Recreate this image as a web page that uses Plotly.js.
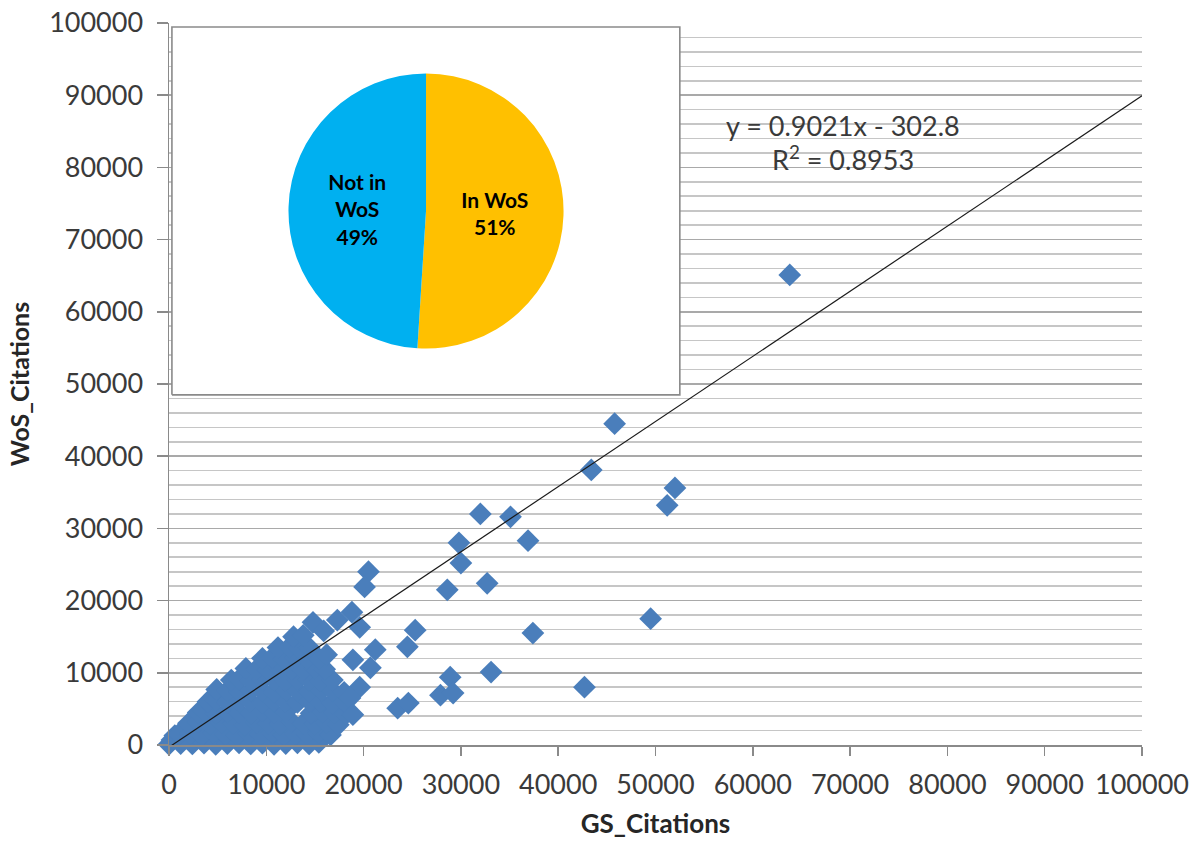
<!DOCTYPE html>
<html>
<head>
<meta charset="utf-8">
<script src="https://cdn.plot.ly/plotly-3.0.1.min.js"></script>
<style>
html,body{margin:0;padding:0;background:#fff;}
#chart{width:1190px;height:842px;}
</style>
</head>
<body>
<div id="chart"></div>
<script>
// ---- Scatter data: GS citations vs WoS citations ----
const gsCitations = [
  // dense cluster near origin, row by row
  0,1200,2400,3600,4800,6000,7200,8400,9600,10800,12000,13200,14400,15400,
  300,600,
  1000,2200,3400,4600,5800,7000,8200,9400,10600,11800,13000,14200,15400,16600,
  2000,3000,4200,5400,6600,7800,9000,10200,11400,12600,13800,15000,16200,17400,
  3000,3600,4800,6000,7200,8400,9600,10800,12000,14600,15800,17000,18200,
  4000,4800,6000,7200,8400,9600,10800,12000,13200,14400,15600,16800,18000,
  4900,6000,7200,8400,9600,10800,12000,13200,14400,15600,16800,18000,
  6400,7200,8400,9600,10800,12000,13200,14400,15600,16800,
  7900,9000,10200,11400,12600,13800,15000,16000,
  9600,10600,11800,13000,14200,15400,
  11200,12400,13400,14400,
  12800,13800,
  // scattered points
  63800,45800,43400,52000,51200,32000,35100,29800,36900,30000,28600,32700,
  37400,49500,28900,33100,42700,27900,29200,20500,20100,25300,24500,14800,
  18800,17300,19600,21200,18900,20700,16200,23500,24600,19600,18600,18900,
  15900
];
const wosCitations = [
  100,200,150,250,100,200,300,150,250,100,200,300,150,350,
  700,1300,
  1500,1600,1400,1700,1500,1400,1600,1500,1700,1400,1600,1500,1700,1400,
  3000,3200,2900,3100,3000,2800,3100,3000,2900,3200,3000,2900,3100,2800,
  4500,4700,4400,4600,4500,4400,4700,4500,4600,4400,4600,4500,4300,
  6000,6200,5900,6100,6000,5800,6100,6000,5900,6100,6000,5800,6000,
  7700,7500,7400,7600,7500,7300,7600,7500,7400,7600,7500,7300,
  9000,9100,8900,9100,9000,8900,9100,9000,8900,9000,
  10600,10500,10400,10600,10500,10400,10600,10500,
  12000,12100,11900,12100,12000,12000,
  13500,13600,13400,13500,
  15000,15200,
  65100,44500,38100,35600,33200,32000,31600,28000,28300,25200,21500,22400,
  15500,17500,9400,10100,8000,6900,7200,24000,21900,15900,13600,17000,
  18400,17300,16300,13200,11800,10700,12500,5100,5800,8000,6500,4200,
  15800
];

// ---- Linear trend (Excel) ----
const trendSlope = 0.9021;
const trendIntercept = -302.8;
const trendLabel = 'y = 0.9021x - 302.8';
const r2Label = 'R<sup>2</sup> = 0.8953';

// ---- Inset pie ----
const pieLabels = ['In WoS', 'Not in WoS'];
const pieText = ['In WoS', 'Not in<br>WoS'];
const pieValues = [51, 49];
const pieColors = ['#FFC000', '#00B0F0'];

// ---- Axes ----
const xTickVals = [0,10000,20000,30000,40000,50000,60000,70000,80000,90000,100000];
const yTickVals = [0,10000,20000,30000,40000,50000,60000,70000,80000,90000,100000];

// inset frame (fractions of the plot area)
const inset = {x0: 0.003, x1: 0.525, y0: 0.485, y1: 0.9945};

const xMin = Math.min(...gsCitations);
const xMax = 100000;
const trendX = [xMin, xMax];
const trendY = trendX.map(v => trendSlope * v + trendIntercept);

const FONT = 'Lato, "Open Sans", sans-serif';
const TXT = '#3a3a3a';

const traces = [
  {
    type: 'scatter', mode: 'markers',
    x: gsCitations, y: wosCitations,
    marker: {symbol: 'diamond', size: 17.5, color: '#4A7EBB', line: {width: 0}},
    cliponaxis: false, hoverinfo: 'skip', showlegend: false
  },
  {
    type: 'scatter', mode: 'lines',
    x: trendX, y: trendY,
    line: {color: '#1a1a1a', width: 1.2},
    hoverinfo: 'skip', showlegend: false
  },
  {
    // white inset frame, on an overlay axis pair spanning 0..1
    type: 'scatter', mode: 'lines', xaxis: 'x2', yaxis: 'y2',
    x: [inset.x0, inset.x1, inset.x1, inset.x0, inset.x0],
    y: [inset.y0, inset.y0, inset.y1, inset.y1, inset.y0],
    fill: 'toself', fillcolor: '#ffffff',
    line: {color: '#8a8a8a', width: 1.6},
    hoverinfo: 'skip', showlegend: false
  },
  {
    type: 'pie',
    labels: pieLabels, values: pieValues, text: pieText,
    marker: {colors: pieColors, line: {width: 0}},
    sort: false, direction: 'clockwise', rotation: 0,
    texttemplate: '%{text}<br>%{percent}',
    textposition: 'inside', insidetextorientation: 'horizontal',
    textfont: {family: FONT, size: 21, color: '#000', weight: 'bold'},
    domain: {x: [0.1228, 0.4055], y: [0.549, 0.930]},
    hoverinfo: 'skip', showlegend: false
  }
];

const layout = {
  width: 1190, height: 842,
  margin: {l: 169, r: 48, t: 23, b: 97},
  paper_bgcolor: '#fff', plot_bgcolor: '#fff',
  font: {family: FONT, color: TXT, size: 27},
  showlegend: false,
  xaxis: {
    range: [0, 100000], tickvals: xTickVals, ticktext: xTickVals.map(String),
    showgrid: false, zeroline: false,
    showline: true, linecolor: '#8a8a8a', linewidth: 1.5,
    ticks: 'outside', ticklen: 9, tickcolor: '#8a8a8a', tickwidth: 1.5,
    ticklabelstandoff: 6,
    tickfont: {family: FONT, size: 27, color: TXT},
    title: {text: 'GS_Citations', font: {family: FONT, size: 26, color: '#262626', weight: 'bold'}, standoff: 16},
    fixedrange: true
  },
  yaxis: {
    range: [0, 100000], tickvals: yTickVals, ticktext: yTickVals.map(String),
    showgrid: true, gridcolor: '#a9a9a9', gridwidth: 1.6,
    minor: {dtick: 2000, showgrid: true, gridcolor: '#c6c6c6', gridwidth: 1.6, ticks: ''},
    zeroline: false,
    showline: true, linecolor: '#8a8a8a', linewidth: 1.5,
    ticks: 'outside', ticklen: 11, tickcolor: '#8a8a8a', tickwidth: 1.5,
    ticklabelstandoff: 8,
    tickfont: {family: FONT, size: 27, color: TXT},
    title: {text: 'WoS_Citations', font: {family: FONT, size: 25, color: '#262626', weight: 'bold'}, standoff: 12},
    fixedrange: true
  },
  xaxis2: {overlaying: 'x', range: [0, 1], visible: false, fixedrange: true},
  yaxis2: {overlaying: 'y', range: [0, 1], visible: false, fixedrange: true},
  annotations: [
    {xref: 'paper', yref: 'paper', x: 0.6927, y: 0.8587, text: trendLabel,
     showarrow: false, xanchor: 'center', yanchor: 'middle',
     font: {family: FONT, size: 27, color: TXT}},
    {xref: 'paper', yref: 'paper', x: 0.6927, y: 0.813, text: r2Label,
     showarrow: false, xanchor: 'center', yanchor: 'middle',
     font: {family: FONT, size: 27, color: TXT}}
  ]
};

Plotly.newPlot('chart', traces, layout, {displayModeBar: false, staticPlot: true});
</script>
</body>
</html>
